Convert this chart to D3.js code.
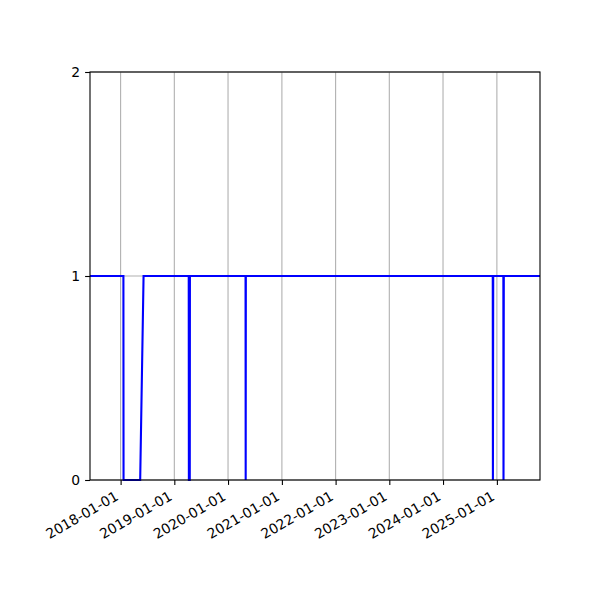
<!DOCTYPE html>
<meta charset="utf-8">
<head>
  <script src="https://d3js.org/d3.v7.min.js"></script>
  <style>
    body { margin: 0; background: #fff; }
    text { font-family: "DejaVu Sans", sans-serif; }
  </style>
</head>
<body>
<div id="chart"></div>
<script>

// status series (0 = down, 1 = up)
var dates = ["2017-06-07", "2018-01-20", "2018-01-21", "2018-05-14", "2018-06-06",
             "2019-04-09", "2019-04-10", "2019-04-16", "2019-04-17",
             "2020-04-29", "2020-04-30", "2020-05-01",
             "2024-12-04", "2024-12-05", "2024-12-07",
             "2025-02-14", "2025-02-15", "2025-02-17", "2025-10-21"];
var values = [1, 1, 0, 0, 1,
              1, 0, 0, 1,
              1, 0, 1,
              1, 0, 1,
              1, 0, 1, 1];
var xTicks = ["2018-01-01", "2019-01-01", "2020-01-01", "2021-01-01",
              "2022-01-01", "2023-01-01", "2024-01-01", "2025-01-01"];
var yTicks = [0, 1, 2];

var parse = d3.timeParse("%Y-%m-%d");
var data = dates.map(function(d, i) { return {date: parse(d), value: values[i]}; });

// set the dimensions and margins of the graph
var margin = {top: 72, right: 60, bottom: 120, left: 90},
    width = 600 - margin.left - margin.right,
    height = 600 - margin.top - margin.bottom;

var svg = d3.select("#chart")
  .append("svg")
    .attr("width", 600)
    .attr("height", 600)
  .append("g")
    .attr("transform", "translate(" + margin.left + "," + margin.top + ")");

var x = d3.scaleTime()
  .domain(d3.extent(data, function(d) { return d.date; }))
  .range([0, width]);

var y = d3.scaleLinear()
  .domain([0, 2])
  .range([height, 0]);

// grid
svg.append("g")
  .selectAll("line.vg")
  .data(xTicks.map(parse))
  .enter().append("line")
    .attr("x1", function(d) { return x(d); })
    .attr("x2", function(d) { return x(d); })
    .attr("y1", 0)
    .attr("y2", height)
    .attr("stroke", "#b0b0b0")
    .attr("stroke-width", 1.1);

svg.append("g")
  .selectAll("line.hg")
  .data(yTicks)
  .enter().append("line")
    .attr("x1", 0)
    .attr("x2", width)
    .attr("y1", function(d) { return y(d); })
    .attr("y2", function(d) { return y(d); })
    .attr("stroke", "#b0b0b0")
    .attr("stroke-width", 1.1);

// the line
svg.append("path")
  .datum(data)
  .attr("fill", "none")
  .attr("stroke", "blue")
  .attr("stroke-width", 2.1)
  .attr("stroke-linejoin", "miter")
  .attr("d", d3.line()
    .x(function(d) { return x(d.date); })
    .y(function(d) { return y(d.value); }));

// X axis
var xAxis = svg.append("g")
  .attr("transform", "translate(0," + height + ")")
  .call(d3.axisBottom(x)
    .tickValues(xTicks.map(parse))
    .tickFormat(d3.timeFormat("%Y-%m-%d"))
    .tickSize(4.9)
    .tickPadding(0));
xAxis.select(".domain").remove();
xAxis.selectAll("line").attr("stroke", "#000").attr("stroke-width", 1.1);
xAxis.selectAll("text")
  .attr("font-size", "13.9px")
  .attr("fill", "#000")
  .attr("text-anchor", "end")
  .attr("dy", null)
  .attr("y", 0)
  .attr("transform", "translate(-1.7,19) rotate(-30)");

// Y axis
var yAxis = svg.append("g")
  .call(d3.axisLeft(y)
    .tickValues(yTicks)
    .tickFormat(d3.format("d"))
    .tickSize(4.9)
    .tickPadding(4.9));
yAxis.select(".domain").remove();
yAxis.selectAll("line").attr("stroke", "#000").attr("stroke-width", 1.1);
yAxis.selectAll("text")
  .attr("font-size", "13.9px")
  .attr("fill", "#000");

// frame
svg.append("rect")
  .attr("width", width)
  .attr("height", height)
  .attr("fill", "none")
  .attr("stroke", "#000")
  .attr("stroke-width", 1.1);

</script>
</body>
